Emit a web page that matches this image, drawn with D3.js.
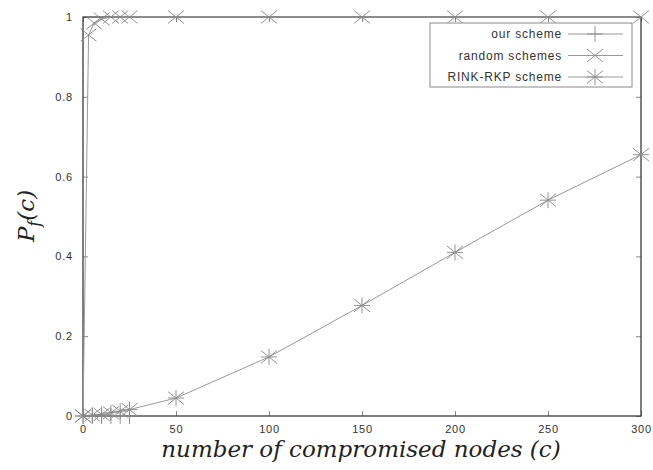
<!DOCTYPE html>
<html>
<head>
<meta charset="utf-8">
<script src="https://cdn.jsdelivr.net/npm/d3@7"></script>
<style>
  html, body { margin: 0; padding: 0; background: #fff; }
  svg { display: block; }
</style>
</head>
<body>
<svg id="chart" width="653" height="470"></svg>
<script>
// Fraction of compromised links P_f(c) vs. number of compromised nodes c
const ourC = [0, 5, 10, 15, 20, 25];
const ourP = [0, 0, 0, 0, 0, 0];

const randomC = [0, 3, 6, 10, 15, 20, 25, 50, 100, 150, 200, 250, 300];
const randomP = [0, 0.955, 0.985, 0.995, 1, 1, 1, 1, 1, 1, 1, 1, 1];

const rinkC = [0, 5, 10, 15, 20, 25, 50, 100, 150, 200, 250, 300];
const rinkP = [0, 0.002, 0.004, 0.008, 0.012, 0.016, 0.045, 0.148, 0.277, 0.41, 0.541, 0.655];

const xTicks = [0, 50, 100, 150, 200, 250, 300];
const yTicks = [0, 0.2, 0.4, 0.6, 0.8, 1];
const yTickLabels = ["0", "0.2", "0.4", "0.6", "0.8", "1"];
const seriesNames = ["our scheme", "random schemes", "RINK-RKP scheme"];

const margin = { left: 83, right: 12, top: 17, bottom: 54 };
const W = 653, H = 470;
const svg = d3.select("#chart");

const x = d3.scaleLinear().domain([0, 300]).range([margin.left, W - margin.right]);
const y = d3.scaleLinear().domain([0, 1]).range([H - margin.bottom, margin.top]);

const axisColor = "#3a3a3a";
const lineColor = "#999";
const markColor = "#888";
const textColor = "#333";
const tickFont = "Liberation Sans, Arial, sans-serif";

// inward ticks on all four sides
const tickLen = 5;
const gAxes = svg.append("g");
gAxes.append("g")
  .attr("transform", `translate(0,${y(0)})`)
  .call(d3.axisBottom(x).tickValues(xTicks).tickSize(-tickLen).tickPadding(9).tickFormat(d3.format("d")))
  .call(g => g.select(".domain").remove());
gAxes.append("g")
  .attr("transform", `translate(0,${y(1)})`)
  .call(d3.axisTop(x).tickValues(xTicks).tickSize(-tickLen).tickFormat(""))
  .call(g => g.select(".domain").remove());
gAxes.append("g")
  .attr("transform", `translate(${x(0)},0)`)
  .call(d3.axisLeft(y).tickValues(yTicks).tickSize(-tickLen).tickPadding(10)
        .tickFormat((d, i) => yTickLabels[i]))
  .call(g => g.select(".domain").remove());
gAxes.append("g")
  .attr("transform", `translate(${x(300)},0)`)
  .call(d3.axisRight(y).tickValues(yTicks).tickSize(-tickLen).tickFormat(""))
  .call(g => g.select(".domain").remove());

gAxes.selectAll(".tick line").attr("stroke", "#888").attr("stroke-width", 1);
gAxes.selectAll(".tick text")
  .attr("fill", textColor)
  .style("font-family", tickFont)
  .style("font-size", "11px")
  .style("letter-spacing", "0.8px");

// frame
svg.append("rect")
  .attr("x", x(0)).attr("y", y(1))
  .attr("width", x(300) - x(0)).attr("height", y(0) - y(1))
  .attr("fill", "none").attr("stroke", axisColor).attr("stroke-width", 1.3);

// marker shapes
function plus(g, cx, cy, r) {
  g.append("path").attr("d", `M${cx - r},${cy}H${cx + r}M${cx},${cy - r}V${cy + r}`);
}
function cross(g, cx, cy, r) {
  const ry = r * 0.8;
  g.append("path").attr("d", `M${cx - r},${cy - ry}L${cx + r},${cy + ry}M${cx - r},${cy + ry}L${cx + r},${cy - ry}`);
}
function star(g, cx, cy, r) {
  const ry = r * 0.8;
  g.append("path").attr("d",
    `M${cx - r},${cy - ry}L${cx + r},${cy + ry}M${cx - r},${cy + ry}L${cx + r},${cy - ry}` +
    `M${cx - r},${cy}H${cx + r}M${cx},${cy - r}V${cy + r}`);
}

const line = d3.line().x(d => x(d[0])).y(d => y(d[1]));
const series = [
  { c: ourC, p: ourP, mark: plus },
  { c: randomC, p: randomP, mark: cross },
  { c: rinkC, p: rinkP, mark: star }
];

const plotG = svg.append("g");
series.forEach(s => {
  const pts = s.c.map((c, i) => [c, s.p[i]]);
  plotG.append("path").datum(pts)
    .attr("d", line)
    .attr("fill", "none").attr("stroke", lineColor).attr("stroke-width", 1);
  const mg = plotG.append("g").attr("stroke", markColor).attr("stroke-width", 0.9).attr("fill", "none");
  pts.forEach(p => s.mark(mg, x(p[0]), y(p[1]), 8));
});

// legend
const lg = svg.append("g");
lg.append("rect")
  .attr("x", 430).attr("y", 23).attr("width", 202).attr("height", 64)
  .attr("fill", "#fff").attr("stroke", "#8a8a8a").attr("stroke-width", 1);
seriesNames.forEach((name, i) => {
  const yy = 34 + i * 21.5;
  lg.append("text")
    .attr("x", 562).attr("y", yy).attr("dy", "0.35em")
    .attr("text-anchor", "end")
    .attr("fill", textColor)
    .style("font-family", tickFont).style("font-size", "12px")
    .style("letter-spacing", "0.8px")
    .text(name);
  lg.append("line")
    .attr("x1", 568).attr("x2", 623).attr("y1", yy).attr("y2", yy)
    .attr("stroke", lineColor).attr("stroke-width", 1);
  const mg = lg.append("g").attr("stroke", markColor).attr("stroke-width", 0.9);
  series[i].mark(mg, 595, yy, 8);
});

// axis titles
svg.append("text")
  .attr("x", 361).attr("y", 457)
  .attr("text-anchor", "middle")
  .attr("fill", "#222")
  .style("font-family", "DejaVu Serif, Liberation Serif, serif")
  .style("font-style", "italic")
  .style("font-size", "23px")
  .text("number of compromised nodes (c)");

const yl = svg.append("text")
  .attr("transform", "translate(34,216) rotate(-90)")
  .attr("text-anchor", "middle")
  .attr("fill", "#222")
  .style("font-family", "DejaVu Serif, Liberation Serif, serif")
  .style("font-style", "italic")
  .style("font-size", "23px");
yl.append("tspan").text("P");
yl.append("tspan").attr("dy", 6).style("font-size", "16px").text("f");
yl.append("tspan").attr("dy", -6).text("(c)");
</script>
</body>
</html>
